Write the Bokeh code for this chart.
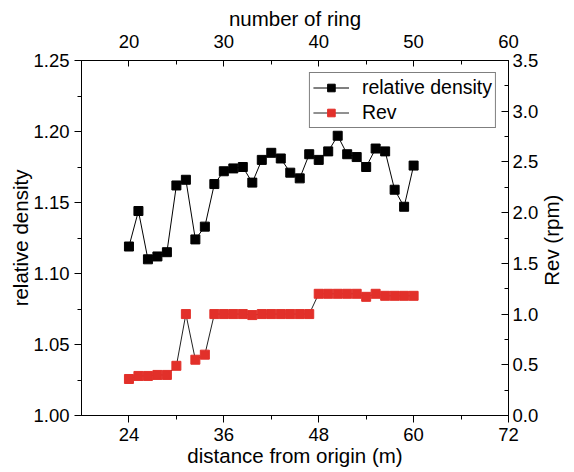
import math
from bokeh.plotting import figure
from bokeh.layouts import row
from bokeh.models import (Range1d, LinearAxis, FixedTicker, PrintfTickFormatter,
                          Legend, LegendItem)
from bokeh.core.properties import value
from bokeh.embed import file_html
from bokeh.resources import INLINE

# ---- data ----
ring = [20, 21, 22, 23, 24, 25, 26, 27, 28, 29, 30, 31, 32, 33, 34, 35,
        36, 37, 38, 39, 40, 41, 42, 43, 44, 45, 46, 47, 48, 49, 50]
relative_density = [1.119, 1.144, 1.110, 1.112, 1.115, 1.162, 1.166, 1.124,
                    1.133, 1.163, 1.172, 1.174, 1.175, 1.164, 1.180, 1.185,
                    1.181, 1.171, 1.167, 1.184, 1.180, 1.186, 1.197, 1.184,
                    1.182, 1.175, 1.188, 1.186, 1.159, 1.147, 1.176]
rev = [0.36, 0.39, 0.39, 0.40, 0.40, 0.49, 1.00, 0.55, 0.60, 1.00, 1.00,
       1.00, 1.00, 0.99, 1.00, 1.00, 1.00, 1.00, 1.00, 1.00, 1.20, 1.20,
       1.20, 1.20, 1.20, 1.17, 1.20, 1.18, 1.18, 1.18, 1.18]

dist_ticks = [24, 36, 48, 60, 72]
ring_ticks = [20, 30, 40, 50, 60]
dens_ticks = [1.00, 1.05, 1.10, 1.15, 1.20, 1.25]
rev_ticks = [0.0, 0.5, 1.0, 1.5, 2.0, 2.5, 3.0, 3.5]
rev_title = "Rev (rpm)"

FONT = "Liberation Sans"
TS = "18.5px"
LS = "20.5px"
RED = "#e2302a"

p = figure(width=541, height=472, output_backend="svg", toolbar_location=None,
           x_range=Range1d(18, 72), y_range=Range1d(1.0, 1.25),
           x_axis_location=None, y_axis_location=None)
p.extra_x_ranges = {"ring": Range1d(15, 60)}
p.extra_y_ranges = {"rev": Range1d(0, 3.5)}
p.min_border_left = 81
p.min_border_right = 33
p.min_border_top = 60
p.min_border_bottom = 57
p.grid.visible = False
p.outline_line_color = "black"
p.outline_line_width = 1
p.background_fill_color = "white"
p.border_fill_color = "white"


def style(ax, tin, tout, label):
    ax.axis_label = label
    ax.axis_label_text_font = FONT
    ax.axis_label_text_font_size = LS
    ax.axis_label_text_font_style = "normal"
    ax.axis_label_text_color = "black"
    ax.major_label_text_font = FONT
    ax.major_label_text_font_size = TS
    ax.major_label_text_color = "black"
    ax.axis_line_color = "black"
    ax.major_tick_line_color = "black"
    ax.minor_tick_line_color = "black"
    ax.major_tick_in = tin
    ax.major_tick_out = tout
    ax.minor_tick_in = 4 if tin else 0
    ax.minor_tick_out = 4 if tout else 0


bottom = LinearAxis(ticker=FixedTicker(ticks=dist_ticks, minor_ticks=[30, 42, 54, 66]),
                    formatter=PrintfTickFormatter(format="%d"))
style(bottom, 0, 7, "distance from origin (m)")
bottom.major_label_standoff = 5
bottom.axis_label_standoff = 0
p.add_layout(bottom, "below")

top = LinearAxis(x_range_name="ring",
                 ticker=FixedTicker(ticks=ring_ticks, minor_ticks=[25, 35, 45, 55]),
                 formatter=PrintfTickFormatter(format="%d"))
style(top, 6, 0, "number of ring")
top.major_label_standoff = 13
top.axis_label_standoff = 2
p.add_layout(top, "above")

left = LinearAxis(ticker=FixedTicker(ticks=dens_ticks,
                                     minor_ticks=[1.025, 1.075, 1.125, 1.175, 1.225]),
                  formatter=PrintfTickFormatter(format="%.2f"))
style(left, 0, 7, "relative density")
left.major_label_standoff = 5
left.axis_label_standoff = -2
p.add_layout(left, "left")

right = LinearAxis(y_range_name="rev",
                   ticker=FixedTicker(ticks=rev_ticks,
                                      minor_ticks=[0.25, 0.75, 1.25, 1.75, 2.25, 2.75, 3.25]),
                   formatter=PrintfTickFormatter(format="%.1f"))
style(right, 7, 0, "")
right.major_label_standoff = 4
p.add_layout(right, "right")

l1 = p.line(ring, relative_density, x_range_name="ring", line_color="black", line_width=1)
s1 = p.scatter(ring, relative_density, x_range_name="ring", marker="square", size=9,
               fill_color="black", line_color="black")
l2 = p.line(ring, rev, x_range_name="ring", y_range_name="rev",
            line_color="#222222", line_width=1)
s2 = p.scatter(ring, rev, x_range_name="ring", y_range_name="rev", marker="square",
               size=9, fill_color=RED, line_color=RED)

legend = Legend(items=[LegendItem(label="relative density", renderers=[l1, s1]),
                       LegendItem(label="Rev", renderers=[l2, s2])],
                location="top_right")
legend.label_text_font = FONT
legend.label_text_font_size = "19.5px"
legend.label_text_color = "black"
legend.border_line_color = "black"
legend.border_line_width = 1
legend.background_fill_alpha = 1
legend.glyph_width = 36
legend.glyph_height = 19
legend.label_height = 19
legend.spacing = 2
legend.padding = 3
legend.margin = 12
legend.label_standoff = 13
p.add_layout(legend, "center")

# narrow side panel holding the right-axis title, reading bottom-to-top
p2 = figure(width=33, height=472, output_backend="svg", toolbar_location=None,
            x_range=Range1d(0, 33), y_range=Range1d(0, 472),
            x_axis_location=None, y_axis_location=None,
            min_border_left=0, min_border_right=0, min_border_top=0, min_border_bottom=0)
p2.grid.visible = False
p2.outline_line_color = None
p2.background_fill_color = "white"
p2.border_fill_color = "white"
p2.text(x=[10], y=[233], text=[rev_title], angle=math.pi / 2,
        text_align="center", text_baseline="middle",
        text_font=value(FONT), text_font_size=LS, text_color="black")

layout = row(p, p2, spacing=0)
open("out.html", "w").write(file_html(layout, INLINE))
